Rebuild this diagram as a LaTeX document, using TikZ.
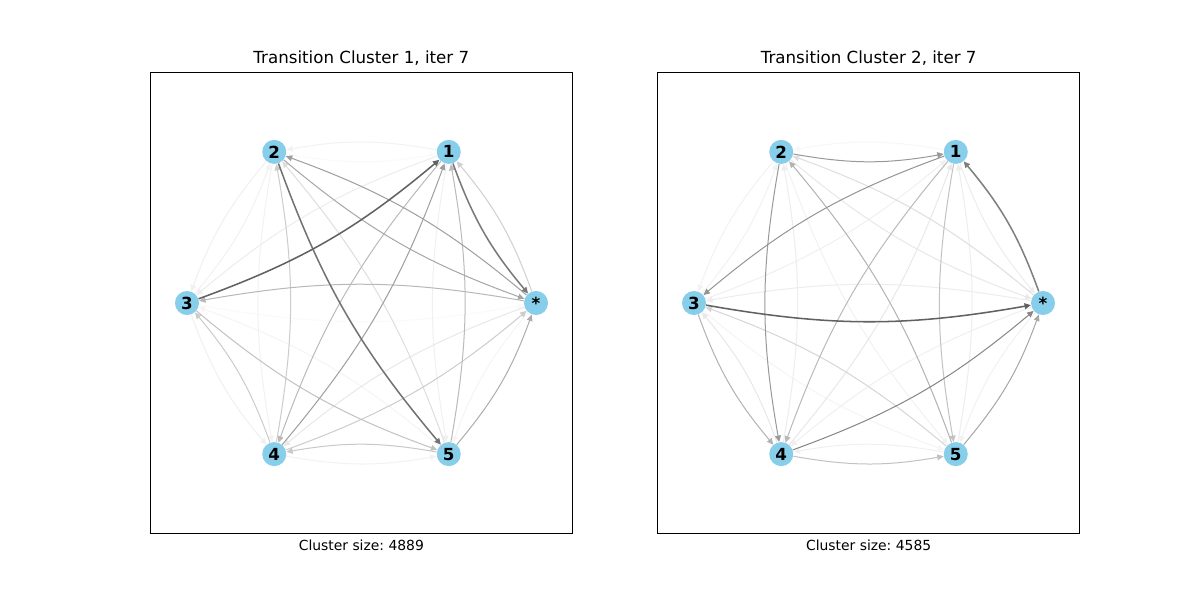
\documentclass[tikz,border=0pt]{standalone}
\usepackage{fontspec}
\setmainfont{DejaVu Sans}
\usetikzlibrary{arrows.meta}
\definecolor{skyblue}{HTML}{87CEEB}
\tikzset{
  nd/.style={circle, fill=skyblue, minimum size=17.3bp, inner sep=0pt, font=\fontsize{12bp}{14bp}\selectfont\bfseries},
  ed/.style={draw=black!#1, line width=0.72bp, -{Triangle[length=4.6bp,width=4.2bp]}},
  thk/.style={line width=1.1bp},
  frame/.style={draw=black, line width=0.8bp},
  ttl/.style={anchor=base, font=\fontsize{12bp}{14bp}\selectfont},
  xlab/.style={anchor=base, font=\fontsize{10bp}{12bp}\selectfont},
}
\newcommand\edg[4][]{\draw[ed=#2,#1] (#3) to[bend right=10] (#4);}
\frenchspacing
\begin{document}
\begin{tikzpicture}[x=0.72bp, y=-0.72bp]
\useasboundingbox (0,0) rectangle (1200,600);
\fill[white] (0,0) rectangle (1200,600);
% frames
\draw[frame] (150.4,72.4) rectangle (572.7,533.6);
\draw[frame] (657.3,72.4) rectangle (1079.6,533.6);
\node[ttl] (t1) at (361.35,63.5) {Transition Cluster 1, iter 7};
\node[ttl] (t2) at (868.65,63.5) {Transition Cluster 2, iter 7};
\node[xlab] (x1) at (361.35,550.5) {Cluster size: 4889};
\node[xlab] (x2) at (868.65,550.5) {Cluster size: 4585};
% panel 1 nodes
\node[nd] (as) at (536,303) {*};
\node[nd] (a1) at (448.75,151.9) {1};
\node[nd] (a2) at (274.25,151.9) {2};
\node[nd] (a3) at (187,303) {3};
\node[nd] (a4) at (274.25,454.1) {4};
\node[nd] (a5) at (448.75,454.1) {5};
% panel 2 nodes
\node[nd] (bs) at (1043,303) {*};
\node[nd] (b1) at (955.75,151.9) {1};
\node[nd] (b2) at (781.25,151.9) {2};
\node[nd] (b3) at (694,303) {3};
\node[nd] (b4) at (781.25,454.1) {4};
\node[nd] (b5) at (955.75,454.1) {5};
% panel 1 edges
\edg{2}{a2}{a1}
\edg{2}{a3}{as}
\edg{4}{as}{a5}
\edg{5}{a1}{a2}
\edg{4}{a5}{a3}
\edg{5}{a3}{a2}
\edg{5}{a2}{a4}
\edg{5}{a4}{a5}
\edg{7}{a1}{a3}
\edg{6}{a1}{a5}
\edg{6}{a2}{a3}
\edg{6}{a3}{a4}
\edg{9}{as}{a4}
\edg{13}{a5}{a2}
\edg{19}{as}{a1}
\edg{20}{a4}{a2}
\edg{20}{a4}{a3}
\edg{20}{a4}{as}
\edg{21}{a5}{a4}
\edg{24}{a3}{a5}
\edg{27}{a1}{a4}
\edg{27}{a5}{a1}
\edg{28}{as}{a3}
\edg{32}{a5}{as}
\edg{35}{a2}{as}
\edg{38}{as}{a2}
\edg{38}{a4}{a1}
\edg[thk]{52}{a1}{as}
\edg[thk]{55}{a2}{a5}
\edg[thk]{62}{a3}{a1}
% panel 2 edges
\edg{3}{b1}{b2}
\edg{4}{b3}{b5}
\edg{5}{b2}{b5}
\edg{5}{bs}{b5}
\edg{5}{b2}{b3}
\edg{5}{b3}{b2}
\edg{6}{b3}{b1}
\edg{6}{b5}{b4}
\edg{7}{b1}{bs}
\edg{7}{b4}{b2}
\edg{7}{b5}{b1}
\edg{7}{bs}{b3}
\edg{6}{bs}{b4}
\edg{9}{b4}{b1}
\edg{9}{b2}{bs}
\edg{9}{b4}{b3}
\edg{13}{bs}{b2}
\edg{16}{b5}{b3}
\edg{24}{b1}{b5}
\edg{24}{b4}{b5}
\edg{27}{b1}{b4}
\edg{30}{b5}{b2}
\edg{30}{b3}{b4}
\edg{35}{b5}{bs}
\edg{40}{b2}{b1}
\edg{40}{b2}{b4}
\edg{42}{b1}{b3}
\edg{48}{b4}{bs}
\edg[thk]{50}{bs}{b1}
\edg[thk]{62}{b3}{bs}
\end{tikzpicture}
\end{document}
